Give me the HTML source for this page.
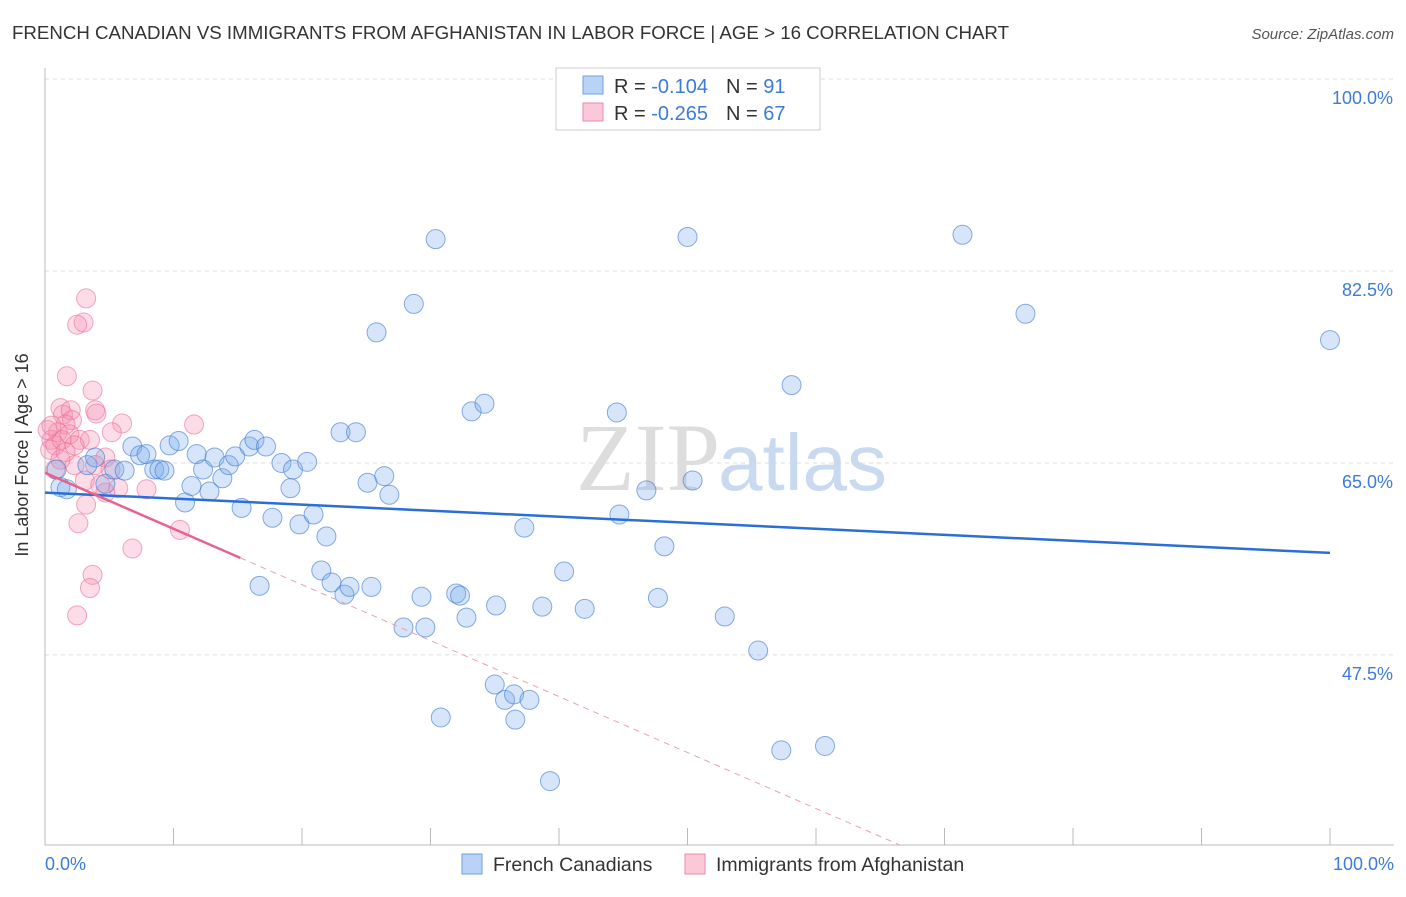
<!DOCTYPE html>
<html><head><meta charset="utf-8"><style>
body{margin:0;background:#fff;font-family:"Liberation Sans",sans-serif;}
</style></head><body>
<svg width="1406" height="892" xmlns="http://www.w3.org/2000/svg" font-family="Liberation Sans, sans-serif">
<text x="12" y="39" font-size="18.7" fill="#333">FRENCH CANADIAN VS IMMIGRANTS FROM AFGHANISTAN IN LABOR FORCE | AGE &gt; 16 CORRELATION CHART</text>
<text x="1394" y="39" font-size="15" fill="#555" font-style="italic" text-anchor="end">Source: ZipAtlas.com</text>
<g id="grid"></g>
<text x="720" y="490" font-size="96" fill="#ddd" text-anchor="end" font-family="Liberation Serif, serif">ZIP</text>
<text x="718" y="490" font-size="80" fill="#c9daf0">atlas</text>
<g id="pts"></g>
<g id="lines"></g>
<text x="28" y="455" font-size="18" fill="#333" text-anchor="middle" transform="rotate(-90 28 455)">In Labor Force | Age &gt; 16</text>
<text x="45" y="870" font-size="18" fill="#3d7bd9">0.0%</text>
<text x="1394" y="870" font-size="18" fill="#3d7bd9" text-anchor="end">100.0%</text>
<g>
<rect x="556" y="68" width="264" height="62" fill="#fff" stroke="#ccc"/>
<rect x="583" y="76" width="20" height="18" fill="#b8d3f5" stroke="#6f9fe0"/>
<rect x="583" y="103" width="20" height="18" fill="#fac8d6" stroke="#ec8aa8"/>
<text x="614" y="93" font-size="20" fill="#333">R = <tspan fill="#3d7bd9">-0.104</tspan><tspan dx="18">N = </tspan><tspan fill="#3d7bd9">91</tspan></text>
<text x="614" y="120" font-size="20" fill="#333">R = <tspan fill="#3d7bd9">-0.265</tspan><tspan dx="18">N = </tspan><tspan fill="#3d7bd9">67</tspan></text>
</g>
<g>
<rect x="462" y="854" width="20" height="20" fill="#b8d3f5" stroke="#6f9fe0"/>
<text x="493" y="871" font-size="19.5" fill="#333">French Canadians</text>
<rect x="685" y="854" width="20" height="20" fill="#fac8d6" stroke="#ec8aa8"/>
<text x="716" y="871" font-size="19.5" fill="#333">Immigrants from Afghanistan</text>
</g>
</svg>
<script>
const yTicks=[100,82.5,65,47.5];
const yTickLabels=["100.0%","82.5%","65.0%","47.5%"];
const xTicks=[0,10,20,30,40,50,60,70,80,90,100];
const blueX=[0.9,1.2,1.7,3.3,3.9,4.7,5.4,6.2,6.8,7.4,7.9,8.5,8.9,9.3,9.7,10.4,10.9,11.4,11.8,12.3,12.8,13.2,13.8,14.3,14.8,15.3,15.9,16.3,16.7,17.2,17.7,18.4,19.1,19.3,19.8,20.4,20.9,21.5,21.9,22.3,23.3,23.7,23.0,24.2,25.1,25.4,25.8,26.4,26.8,27.9,28.7,29.3,29.6,30.4,30.8,32.0,32.3,32.8,33.2,34.2,35.0,35.1,35.8,36.5,36.6,37.3,37.7,38.7,39.3,40.4,42.0,44.5,44.7,46.8,47.7,48.2,50.0,50.4,52.9,55.5,57.3,58.1,60.7,71.4,76.3,100];
const blueY=[64.4,62.8,62.6,64.8,65.5,63.1,64.4,64.3,66.5,65.7,65.8,64.4,64.4,64.3,66.6,67.0,61.4,62.9,65.8,64.4,62.4,65.5,63.6,64.8,65.6,60.9,66.5,67.1,53.8,66.5,60.0,65.0,62.7,64.4,59.4,65.1,60.3,55.2,58.3,54.1,53.0,53.7,67.8,67.8,63.2,53.7,76.9,63.8,62.1,50.0,79.5,52.8,50.0,85.4,41.8,53.1,52.9,50.9,69.7,70.4,44.8,52.0,43.4,43.9,41.6,59.1,43.4,51.9,36.0,55.1,51.7,69.6,60.3,62.5,52.7,57.4,85.6,63.4,51.0,47.9,38.8,72.1,39.2,85.8,78.6,76.2];
const pinkX=[3.2,3.0,2.5,1.7,3.7,3.9,4.0,6.0,11.6,1.2,1.4,2.0,2.1,1.6,1.0,0.5,0.8,0.4,1.3,1.9,2.7,3.5,5.2,4.7,3.9,2.3,3.1,4.3,5.1,5.7,4.7,3.2,7.9,2.6,10.5,6.8,3.7,3.5,2.5,0.8,1.2,1.6,2.3,0.2,0.5];
const pinkY=[80.0,77.8,77.6,72.9,71.6,69.8,69.5,68.6,68.5,70.0,69.4,69.8,68.9,68.5,67.8,67.1,66.6,66.2,67.1,67.6,67.1,67.1,67.8,65.5,64.8,64.8,63.4,63.0,64.4,62.7,62.3,61.2,62.6,59.5,58.9,57.2,54.8,53.6,51.1,64.4,65.3,66.0,66.6,68.0,68.4];
const blueLine=[62.3,56.8];
const pinkLine=[64.1,13.1];
const NS="http://www.w3.org/2000/svg";
const xs=v=>45+v*12.85, ys=v=>79+(100-v)*10.97;
function mk(t,a,p){const e=document.createElementNS(NS,t);for(const k in a)e.setAttribute(k,a[k]);p.appendChild(e);return e;}
const g=document.getElementById('grid');
yTicks.forEach((t,i)=>{
 const l=mk('line',{x1:45,x2:1394,y1:ys(t),y2:ys(t),stroke:'#ddd','stroke-dasharray':'4,4'},g);
 
 
 const tx=mk('text',{x:1393,y:ys(t)+25,'font-size':18,fill:'#3d7bd9','text-anchor':'end'},g);
 tx.textContent=yTickLabels[i];
 
 
});
const ax=mk('line',{x1:45,x2:45,y1:68,y2:845,stroke:'#bbb'},g);


const bx=mk('line',{x1:45,x2:1394,y1:845,y2:845,stroke:'#bbb'},g);


xTicks.forEach(t=>{
 const l=mk('line',{x1:xs(t),x2:xs(t),y1:828,y2:845,stroke:'#bbb'},g);
 
 
});
const p=document.getElementById('pts');
pinkX.forEach((x,i)=>{
 const c=mk('circle',{cx:xs(x),cy:ys(pinkY[i]),r:9.5,fill:'rgba(244,143,177,0.3)',stroke:'rgba(236,110,150,0.6)','stroke-width':1},p);
 
 
});
blueX.forEach((x,i)=>{
 const c=mk('circle',{cx:xs(x),cy:ys(blueY[i]),r:9.5,fill:'rgba(120,170,235,0.3)',stroke:'rgba(60,120,210,0.6)','stroke-width':1},p);
 
 
});
const L=document.getElementById('lines');
const bl=mk('line',{x1:xs(0),y1:ys(blueLine[0]),x2:xs(100),y2:ys(blueLine[1]),stroke:'#2a6fd6','stroke-width':2.5},L);


const pv=x=>pinkLine[0]+(pinkLine[1]-pinkLine[0])*x/100;
const ps=mk('line',{x1:xs(0),y1:ys(pv(0)),x2:xs(15.2),y2:ys(pv(15.2)),stroke:'#e8628e','stroke-width':2.5},L);


const xEnd=(pinkLine[0]-30.2)/(pinkLine[0]-pinkLine[1])*100;
const pd=mk('line',{x1:xs(15.2),y1:ys(pv(15.2)),x2:xs(xEnd),y2:ys(pv(xEnd)),stroke:'#eaa0b8','stroke-width':1,'stroke-dasharray':'6,5'},L);


</script>
</body></html>
